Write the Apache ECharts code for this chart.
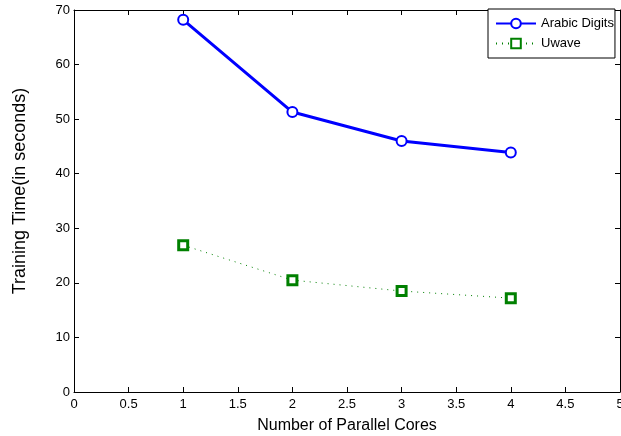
<!DOCTYPE html>
<html>
<head>
<meta charset="utf-8">
<script src="https://cdn.jsdelivr.net/npm/echarts@6/dist/echarts.min.js"></script>
<style>
  html, body { margin: 0; padding: 0; background: #fff; }
  #chart { width: 621px; height: 436px; }
</style>
</head>
<body>
<div id="chart"></div>
<script>
// Training time versus number of parallel cores
const cores = [1, 2, 3, 4];
const arabicDigits = [68.2, 51.3, 46.0, 43.9];
const uwave = [26.9, 20.5, 18.5, 17.2];
const xTicks = { min: 0, max: 5, interval: 0.5 };
const yTicks = { min: 0, max: 70, interval: 10 };

const font = 'Liberation Sans, Arial, sans-serif';
const axisCommon = {
  type: 'value',
  axisLine: { show: true, onZero: false, lineStyle: { color: '#000', width: 1 } },
  axisTick: { show: true, inside: true, length: 5, lineStyle: { color: '#000' } },
  splitLine: { show: false },
  axisLabel: { color: '#000', fontFamily: font, fontSize: 13 }
};

const chart = echarts.init(document.getElementById('chart'), null, { renderer: 'canvas' });
chart.setOption({
  animation: false,
  backgroundColor: '#fff',
  grid: { left: 74, right: 1, top: 10, bottom: 44, containLabel: false, outerBoundsMode: 'none' },
  xAxis: [
    Object.assign({}, axisCommon, xTicks, {
      position: 'bottom',
      name: 'Number of Parallel Cores',
      nameLocation: 'middle',
      nameGap: 26,
      nameTextStyle: { color: '#000', fontFamily: font, fontSize: 16 },
      axisLabel: Object.assign({}, axisCommon.axisLabel, { margin: 6, showMaxLabel: true, hideOverlap: false })
    }),
    Object.assign({}, axisCommon, xTicks, {
      position: 'top',
      axisLabel: { show: false }
    })
  ],
  yAxis: [
    Object.assign({}, axisCommon, yTicks, {
      position: 'left',
      name: 'Training Time(in seconds)',
      nameLocation: 'middle',
      nameGap: 45,
      // left padding nudges the rotated title a little toward the top
      nameTextStyle: { color: '#000', fontFamily: font, fontSize: 18, padding: [0, 0, 0, 20] },
      axisLabel: Object.assign({}, axisCommon.axisLabel, { margin: 4 })
    }),
    Object.assign({}, axisCommon, yTicks, {
      position: 'right',
      axisLabel: { show: false }
    })
  ],
  legend: {
    orient: 'vertical',
    left: 488,
    top: 9,
    padding: [8, 1, 8, 7],
    itemGap: 7,
    itemWidth: 40,
    itemHeight: 12,
    backgroundColor: '#fff',
    borderColor: '#000',
    borderWidth: 1,
    textStyle: { color: '#000', fontFamily: font, fontSize: 13, padding: [0, 0, 0, 0] },
    data: ['Arabic Digits', 'Uwave']
  },
  series: [
    {
      name: 'Arabic Digits',
      type: 'line',
      data: cores.map((c, i) => [c, arabicDigits[i]]),
      symbol: 'circle',
      symbolSize: 10,
      lineStyle: { color: '#0000ff', width: 3 },
      itemStyle: { color: '#fff', borderColor: '#0000ff', borderWidth: 2 }
    },
    {
      name: 'Uwave',
      type: 'line',
      data: cores.map((c, i) => [c, uwave[i]]),
      symbol: 'rect',
      symbolSize: 9,
      lineStyle: { color: '#008000', width: 1, type: [1, 5] },
      itemStyle: { color: '#fff', borderColor: '#008000', borderWidth: 3 }
    }
  ]
});
</script>
</body>
</html>
